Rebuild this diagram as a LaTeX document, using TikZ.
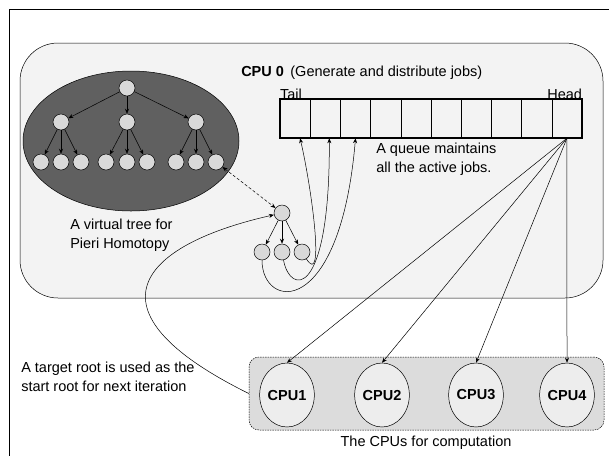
\documentclass[tikz,border=0pt]{standalone}
\usepackage{fontspec}
\setmainfont{Liberation Sans}
\usetikzlibrary{shapes.geometric,arrows.meta,positioning}

\definecolor{panelgray}{HTML}{F3F3F3}
\definecolor{treegray}{HTML}{606060}
\definecolor{nodegray}{HTML}{D9D9D9}
\definecolor{boxgray}{HTML}{DCDCDC}
\definecolor{cpufill}{HTML}{EDEDED}

\begin{document}
\begin{tikzpicture}[x=1pt,y=-1pt,line width=0.5pt,
  >={Stealth[length=5pt,width=4pt]},
  tnode/.style={circle, draw, fill=nodegray, minimum size=16pt, inner sep=0pt},
  cell/.style={rectangle, draw, minimum width=30.2pt, minimum height=39pt, inner sep=0pt},
  cpu/.style={ellipse, draw, fill=cpufill, minimum width=54pt, minimum height=64pt, inner sep=0pt, font=\fontsize{14.5}{17}\selectfont\bfseries},
  txt/.style={inner sep=0pt, align=left, font=\fontsize{14.5}{19}\selectfont}]
\useasboundingbox (0,0) rectangle (609,456);

% frame and CPU 0 panel
\draw (609,9) -- (9,9) -- (9,456);
\draw[fill=panelgray, rounded corners=38pt] (20,43) rectangle (603,298);

% virtual tree
\node[ellipse, draw, fill=treegray, minimum width=216pt, minimum height=140pt] (treebg) at (131,141) {};
\node[tnode] (root) at (127,88) {};
\node[tnode] (m1) at (61,122) {};
\node[tnode] (m2) at (127,122) {};
\node[tnode] (m3) at (196,122) {};
\foreach \x [count=\i] in {41,61,81,106,127,147,176,196,216}
  \node[tnode] (l\i) at (\x,162) {};
\foreach \m in {1,2,3}
  \draw[->] (root) -- (m\m);
\foreach \m/\a/\b/\c in {1/1/2/3, 2/4/5/6, 3/7/8/9} {
  \draw[->] (m\m) -- (l\a);
  \draw[->] (m\m) -- (l\b);
  \draw[->] (m\m) -- (l\c);
}

% queue
\foreach \i in {1,...,10}
  \node[cell] (q\i) at ({280+30.2*(\i-0.5)},118.5) {};
\draw[line width=1.6pt] (q1.north west) rectangle (q10.south east);
\node[txt, anchor=south west] (tail) at ([yshift=-1pt]q1.north west) {Tail};
\node[txt, anchor=south east] (head) at ([yshift=-1pt]q10.north east) {Head};

% small tree
\node[tnode] (sroot) at (282,213) {};
\node[tnode] (s1) at (262,252) {};
\node[tnode] (s2) at (282,252) {};
\node[tnode] (s3) at (302,252) {};
\foreach \s in {1,2,3}
  \draw[->] (sroot) -- (s\s);
\draw[<->, densely dashed] (l9) -- (sroot);

% jobs pushed into the queue
\draw[->] (s3) .. controls (325,288) and (312,190) .. ([xshift=5pt]q1.south);
\draw[->] (s2) .. controls (290,295) and (330,300) .. ([xshift=4pt]q2.south);
\draw[->] (s1) .. controls (262,310) and (340,320) .. (q3.south);

% CPUs for computation
\node[draw, dash pattern=on 1.5pt off 1pt, fill=boxgray, rounded corners=10pt, minimum width=355pt, minimum height=73pt] (cpus) at (426.5,393.5) {};
\node[cpu] (cpu1) at (287,395) {CPU1};
\node[cpu] (cpu2) at (382,395) {CPU2};
\node[cpu] (cpu3) at (476,395) {CPU3};
\node[cpu] (cpu4) at (567,395) {CPU4};
\foreach \c in {1,2,3,4}
  \draw[->] (q10.south) -- (cpu\c.north);

% result goes back to the tree
\draw[->] (cpus.west) .. controls (80,310) and (140,245) .. (sroot);

% labels
\node[txt, anchor=west] (title) at (241,73) {\textbf{CPU 0}\, (Generate and distribute jobs)};
\node[txt, anchor=north west] (qnote) at (376,143) {A queue maintains\\all the active jobs.};
\node[txt, anchor=north west] (treenote) at (70,219) {A virtual tree for\\Pieri Homotopy};
\node[txt, anchor=west] (rootnote) at (21,377) {A target root is used as the\\start root for next iteration};
\node[txt] (cpunote) at (426,443) {The CPUs for computation};
\end{tikzpicture}
\end{document}
